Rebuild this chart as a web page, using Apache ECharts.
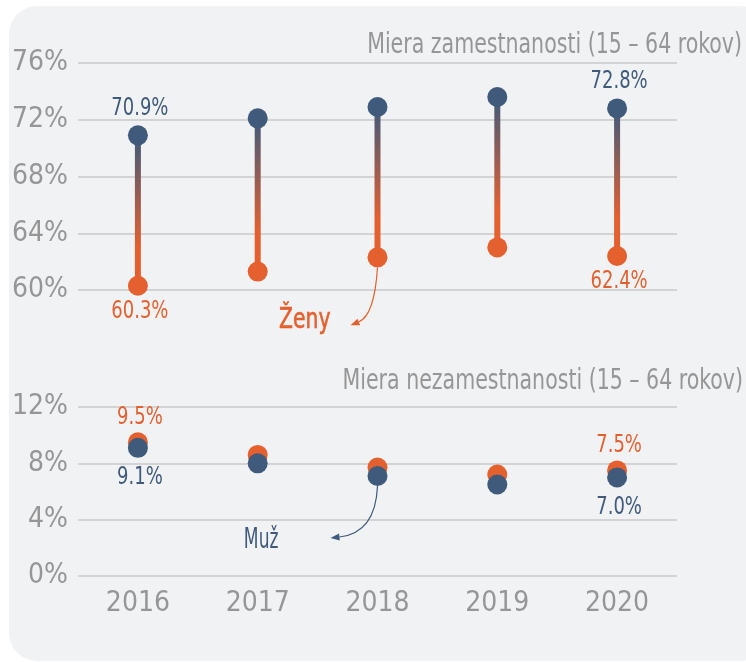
<!DOCTYPE html>
<html>
<head>
<meta charset="utf-8">
<script src="https://cdn.jsdelivr.net/npm/echarts@6/dist/echarts.min.js"></script>
<style>
html,body{margin:0;padding:0;background:#ffffff;}
#main{width:746px;height:662px;}
</style>
</head>
<body>
<div id="main"></div>
<script>
// ---- data ----
var years = ['2016', '2017', '2018', '2019', '2020'];
var empMen = [70.9, 72.1, 72.9, 73.6, 72.8];
var empWomen = [60.3, 61.3, 62.3, 63.0, 62.4];
var unempMen = [9.1, 8.0, 7.1, 6.5, 7.0];
var unempWomen = [9.5, 8.6, 7.7, 7.2, 7.5];
var labelledIdx = [0, 4];
var titleTop = 'Miera zamestnanosti (15 \u2013 64 rokov)';
var titleBottom = 'Miera nezamestnanosti (15 \u2013 64 rokov)';
var womenLabel = '\u017Deny';
var menLabel = 'Mu\u017E';

// ---- styles ----
var FONT = "'DejaVu Sans Condensed', 'Liberation Sans Narrow', Roboto, sans-serif";
var BLUE = '#3f5a7b';
var ORANGE = '#e5602f';
var GREY = '#969696';
var GRID = '#c8c8c8';

function fmt(v) { return v.toFixed(1) + '%'; }

// value labels drawn as condensed text through the axes' coordinate system
function labelSeries(values, color, dy, xAxisIndex) {
  return {
    type: 'custom', xAxisIndex: xAxisIndex, yAxisIndex: xAxisIndex, z: 6, silent: true,
    data: labelledIdx.map(function (i) { return [i, values[i]]; }),
    renderItem: function (params, api) {
      var p = api.coord([api.value(0), api.value(1)]);
      return {
        type: 'text', x: p[0] + 2, y: p[1] + dy, scaleX: 0.8,
        style: { text: fmt(api.value(1)), fill: color, fontSize: 25, fontFamily: FONT,
          align: 'center', verticalAlign: 'middle' }
      };
    }
  };
}

var chart = echarts.init(document.getElementById('main'), null, { renderer: 'canvas' });

var yLabel = { color: GREY, fontSize: 28, fontFamily: FONT, margin: 10, formatter: '{value}%' };

var option = {
  animation: false,
  backgroundColor: '#ffffff',
  grid: [
    { left: 78, right: 69, top: 63, height: 227 },
    { left: 78, right: 69, top: 407, height: 169 }
  ],
  xAxis: [
    { type: 'category', data: years, gridIndex: 0, axisLine: { show: false }, axisTick: { show: false }, axisLabel: { show: false } },
    { type: 'category', data: years, gridIndex: 1, axisLine: { show: false }, axisTick: { show: false },
      axisLabel: { color: GREY, fontSize: 28, fontFamily: FONT, margin: 14 } }
  ],
  yAxis: [
    { type: 'value', gridIndex: 0, min: 60, max: 76, interval: 4, axisLabel: yLabel,
      splitLine: { lineStyle: { color: GRID, width: 1.5 } } },
    { type: 'value', gridIndex: 1, min: 0, max: 12, interval: 4, axisLabel: yLabel,
      splitLine: { lineStyle: { color: GRID, width: 1.5 } } }
  ],
  series: [
    {
      type: 'custom', xAxisIndex: 0, yAxisIndex: 0, z: 2,
      data: years.map(function (y, i) { return [i, empWomen[i], empMen[i]]; }),
      renderItem: function (params, api) {
        var top = api.coord([api.value(0), api.value(2)]);
        var bot = api.coord([api.value(0), api.value(1)]);
        return {
          type: 'rect',
          shape: { x: top[0] - 3, y: top[1], width: 6, height: bot[1] - top[1] },
          style: { fill: new echarts.graphic.LinearGradient(0, 0, 0, 1, [
            { offset: 0, color: BLUE }, { offset: 0.75, color: ORANGE }, { offset: 1, color: ORANGE }]) }
        };
      }
    },
    { type: 'scatter', xAxisIndex: 0, yAxisIndex: 0, z: 3, symbolSize: 20, itemStyle: { color: ORANGE, opacity: 1 },
      data: empWomen.map(function (v, i) { return [i, v]; }) },
    { type: 'scatter', xAxisIndex: 0, yAxisIndex: 0, z: 3, symbolSize: 20, itemStyle: { color: BLUE, opacity: 1 },
      data: empMen.map(function (v, i) { return [i, v]; }) },
    { type: 'scatter', xAxisIndex: 1, yAxisIndex: 1, z: 3, symbolSize: 20, itemStyle: { color: ORANGE, opacity: 1 },
      data: unempWomen.map(function (v, i) { return [i, v]; }) },
    { type: 'scatter', xAxisIndex: 1, yAxisIndex: 1, z: 4, symbolSize: 20, itemStyle: { color: BLUE, opacity: 1 },
      data: unempMen.map(function (v, i) { return [i, v]; }) },
    labelSeries(empMen, BLUE, -27, 0),
    labelSeries(empWomen, ORANGE, 26, 0),
    labelSeries(unempWomen, ORANGE, -25, 1),
    labelSeries(unempMen, BLUE, 30, 1)
  ]
};
chart.setOption(option);

// ---- annotation arrows, anchored to the 2018 points ----
function arrow(start, ctrl, end, color) {
  var dx = end[0] - ctrl[0], dy = end[1] - ctrl[1];
  var len = Math.sqrt(dx * dx + dy * dy);
  var ux = dx / len, uy = dy / len;
  var L = 9, W = 3.5;
  var bx = end[0] - ux * L, by = end[1] - uy * L;
  return [
    { type: 'bezierCurve', silent: true, z: 5,
      shape: { x1: start[0], y1: start[1], x2: bx, y2: by, cpx1: ctrl[0], cpy1: ctrl[1] },
      style: { stroke: color, lineWidth: 1.2, fill: null } },
    { type: 'polygon', silent: true, z: 5,
      shape: { points: [end, [bx - uy * W, by + ux * W], [bx + uy * W, by - ux * W]] },
      style: { fill: color } }
  ];
}
var pW = chart.convertToPixel({ seriesIndex: 1 }, [2, empWomen[2]]);
var pM = chart.convertToPixel({ seriesIndex: 4 }, [2, unempMen[2]]);
var wStart = [pW[0], pW[1] + 10], wEnd = [pW[0] - 27, pW[1] + 68], wCtrl = [pW[0] - 3, pW[1] + 58];
var mStart = [pM[0], pM[1] + 10], mEnd = [pM[0] - 47, pM[1] + 62], mCtrl = [pM[0] - 2, pM[1] + 57];

var graphics = [
  { type: 'rect', z: -10, silent: true,
    shape: { x: 9, y: 6, width: 760, height: 655, r: 28 },
    style: { fill: '#f1f2f4' } },
  { type: 'text', silent: true, z: 5, x: 742, y: 46, scaleX: 0.815,
    style: { text: titleTop, fill: GREY, fontSize: 28, fontFamily: FONT, align: 'right', verticalAlign: 'middle' } },
  { type: 'text', silent: true, z: 5, x: 743, y: 382, scaleX: 0.815,
    style: { text: titleBottom, fill: GREY, fontSize: 28, fontFamily: FONT, align: 'right', verticalAlign: 'middle' } },
  { type: 'text', silent: true, z: 5, x: wEnd[0] - 20, y: wEnd[1] - 5, scaleX: 0.78,
    style: { text: womenLabel, fill: ORANGE, fontSize: 29, fontFamily: FONT, align: 'right', verticalAlign: 'middle',
      stroke: ORANGE, lineWidth: 0.6 } },
  { type: 'text', silent: true, z: 5, x: mEnd[0] - 52, y: mEnd[1] + 3, scaleX: 0.68,
    style: { text: menLabel, fill: BLUE, fontSize: 28, fontFamily: FONT, align: 'right', verticalAlign: 'middle' } }
].concat(arrow(wStart, wCtrl, wEnd, ORANGE), arrow(mStart, mCtrl, mEnd, BLUE));
chart.setOption({ graphic: graphics });
</script>
</body>
</html>
